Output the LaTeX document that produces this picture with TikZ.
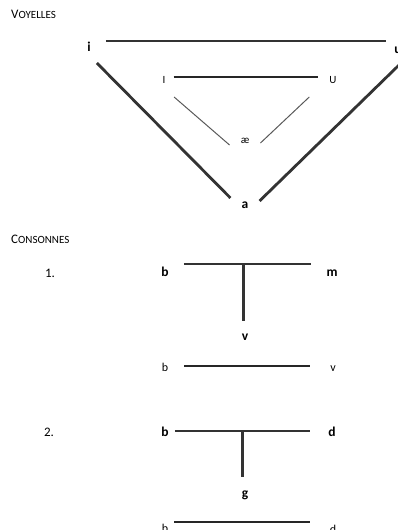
\documentclass[tikz,border=0pt]{standalone}
\usepackage{fontspec}
\setmainfont{Carlito}
\usetikzlibrary{calc}

\newcommand{\fakesc}[2]{#1{\fontsize{11}{13}\selectfont #2}}

\tikzset{
  title/.style={font=\fontsize{13}{15}\selectfont, anchor=base west, inner sep=0pt},
  vlab/.style={font=\fontsize{13.5}{15}\selectfont\bfseries, anchor=base, inner sep=0pt},
  plab/.style={font=\fontsize{12}{14}\selectfont, anchor=base, inner sep=0pt},
  slab/.style={font=\fontsize{11}{13}\selectfont, anchor=base, inner sep=0pt},
  heavy/.style={line width=2.8pt, draw=black!80},
  light/.style={line width=1.3pt, draw=black!85},
  faint/.style={line width=1pt, draw=black!65},
}

\begin{document}
\begin{tikzpicture}[x=1pt, y=-1pt]
  \useasboundingbox (0,0) rectangle (398,530);

  % voyelles
  \node[title] (voy) at (11,19) {\fakesc{V}{OYELLES}};
  \node[vlab] (i) at (89,51) {i};
  \node[vlab] (u) at (398,53) {u};
  \node[vlab] (a) at (245,208) {a};
  \node[plab] (I) at (164,83) {\fontsize{11}{13}\selectfont I};
  \node[plab] (U) at (333,83) {\fontsize{11}{13}\selectfont U};
  \node[slab] (ae) at (245,143) {æ};

  \draw[heavy] ([xshift=15pt,yshift=10pt]i.base east) -- ([xshift=-8pt,yshift=12pt]u.base west);
  \draw[heavy] ([xshift=6pt,yshift=-12pt]i.base east) -- ([xshift=-11pt,yshift=10pt]a.base west);
  \draw[heavy] ([xshift=10pt,yshift=-7pt]u.base west) -- ([xshift=11pt,yshift=7pt]a.base east);
  \draw[light] ([xshift=8pt,yshift=6pt]I.base east) -- ([xshift=-11pt,yshift=6pt]U.base west);
  \draw[faint] ([xshift=8.5pt,yshift=-14pt]I.base east) -- ([xshift=-11pt,yshift=-2pt]ae.base west);
  \draw[faint] ([xshift=-20pt,yshift=-14pt]U.base west) -- ([xshift=11pt,yshift=0pt]ae.base east);

  % consonnes
  \node[title] (cons) at (11,243) {\fakesc{C}{ONSONNES}};

  % 1.
  \node[plab, font=\fontsize{13}{15}\selectfont] (one) at (50,277) {1.};
  \node[vlab] (b1) at (165,276) {b};
  \node[vlab] (m1) at (332,276) {m};
  \node[vlab] (v1) at (245,340) {v};
  \draw[heavy] ([xshift=15pt,yshift=12pt]b1.base east)
    -- coordinate[pos=.465] (t1) ([xshift=-15pt,yshift=12pt]m1.base west);
  \draw[heavy, shorten >=12pt] (t1) -- (t1 |- v1.north);
  \node[plab] (b2) at (165,371) {b};
  \node[plab] (v2) at (333,371) {v};
  \draw[light] ([xshift=16pt,yshift=5pt]b2.base east) -- ([xshift=-20pt,yshift=5pt]v2.base west);

  % 2.
  \node[plab, font=\fontsize{13}{15}\selectfont] (two) at (49,436) {2.};
  \node[vlab] (b3) at (165,436) {b};
  \node[vlab] (d3) at (332,436) {d};
  \node[vlab] (g3) at (245,497) {g};
  \draw[heavy] ([xshift=6pt,yshift=5pt]b3.base east)
    -- coordinate[pos=.5] (t3) ([xshift=-18pt,yshift=5pt]d3.base west);
  \draw[heavy, shorten >=13pt] (t3) -- (t3 |- g3.north);
  \node[plab] (b4) at (165,532) {b};
  \node[plab] (d4) at (333,533) {d};
  \draw[light] ([xshift=6pt,yshift=10pt]b4.base east) -- ([xshift=-20pt,yshift=11pt]d4.base west);
\end{tikzpicture}
\end{document}
